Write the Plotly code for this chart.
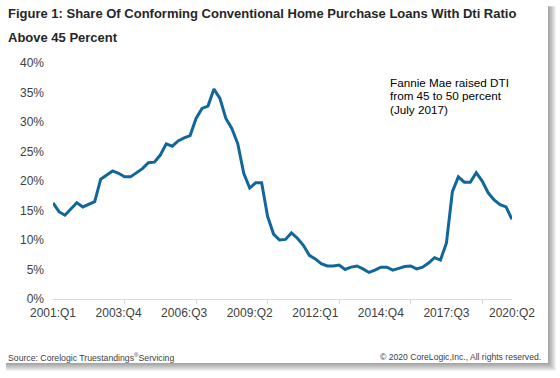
import plotly.graph_objects as go

# ---- data (share of loans with DTI > 45%, quarterly 2001:Q1 .. 2020:Q2) ----
share_pct = [
    16.3, 14.8, 14.2, 15.3, 16.3, 15.6, 16.0, 16.5, 20.3, 21.0,
    21.7, 21.3, 20.7, 20.7, 21.4, 22.1, 23.1, 23.2, 24.4, 26.3,
    25.9, 26.8, 27.3, 27.7, 30.6, 32.3, 32.7, 35.6, 34.0, 30.6,
    28.9, 26.3, 21.3, 18.8, 19.7, 19.7, 14.0, 11.0, 10.0, 10.1,
    11.2, 10.3, 9.1, 7.4, 6.8, 6.0, 5.6, 5.6, 5.75, 5.0,
    5.4, 5.6, 5.1, 4.5, 4.9, 5.4, 5.4, 4.9, 5.2, 5.5,
    5.6, 5.1, 5.4, 6.1, 7.0, 6.6, 9.5, 18.2, 20.7, 19.8,
    19.8, 21.4, 20.0, 18.0, 16.8, 16.0, 15.6, 13.5,
]
tick_labels = ["2001:Q1", "2003:Q4", "2006:Q3", "2009:Q2",
               "2012:Q1", "2014:Q4", "2017:Q3", "2020:Q2"]
label_step = 11
tickmark_step = 12
y_ticks = [0, 5, 10, 15, 20, 25, 30, 35, 40]
y_tick_text = [f"{v}%" for v in y_ticks]
note_lines = ["Fannie Mae raised DTI", "from 45 to 50 percent", "(July 2017)"]

quarters = [f"{2001 + i // 4}:Q{i % 4 + 1}" for i in range(len(share_pct))]
xidx = list(range(len(share_pct)))

W, H = 560, 378
L, R, T, B = 53, 512, 62.7, 299.0


def px(x):
    return (x - L) / (R - L)


def py(y):
    return (B - y) / (B - T)


FONT = "Arial, Liberation Sans, sans-serif"

fig = go.Figure()
fig.add_trace(go.Scatter(
    x=xidx, y=share_pct, mode="lines", text=quarters,
    line=dict(color="#11679a", width=3),
    hovertemplate="%{text}: %{y:.1f}%<extra></extra>",
))

shapes = []
# card shadow
for k in range(1, 9):
    shapes.append(dict(type="rect", xref="paper", yref="paper", layer="below",
                       x0=px(6), y0=py(6), x1=px(548 + k), y1=py(363 + k),
                       line=dict(width=0), fillcolor="rgba(0,0,0,0.05)"))
# white card
shapes.append(dict(type="rect", xref="paper", yref="paper", layer="below",
                   x0=px(-2), y0=py(-2), x1=px(548), y1=py(363),
                   line=dict(width=0), fillcolor="white"))

annotations = [
    dict(text="<b>Figure 1: Share Of Conforming Conventional Home Purchase Loans With Dti Ratio</b>",
         xref="paper", yref="paper", x=px(6), y=py(13.6), xanchor="left", yanchor="middle",
         showarrow=False, font=dict(family=FONT, size=13, color="#262626")),
    dict(text="<b>Above 45 Percent</b>",
         xref="paper", yref="paper", x=px(6), y=py(37.6), xanchor="left", yanchor="middle",
         showarrow=False, font=dict(family=FONT, size=13, color="#262626")),
    dict(text="Source: Corelogic Truestandings<sup>®</sup>Servicing",
         xref="paper", yref="paper", x=px(6), y=py(357), xanchor="left", yanchor="middle",
         showarrow=False, font=dict(family=FONT, size=8.7, color="#404040")),
    dict(text="© 2020 CoreLogic,Inc., All rights reserved.",
         xref="paper", yref="paper", x=px(543), y=py(357), xanchor="right", yanchor="middle",
         showarrow=False, font=dict(family=FONT, size=8.6, color="#404040")),
]
for i, line in enumerate(note_lines):
    annotations.append(dict(
        text=line, xref="paper", yref="paper", x=px(389), y=py(82 + 13.4 * i),
        xanchor="left", yanchor="middle", showarrow=False, borderpad=0,
        font=dict(family=FONT, size=11.7, color="#000000")))

fig.update_layout(
    width=W, height=H,
    margin=dict(l=L, r=W - R, t=T, b=H - B, pad=0),
    paper_bgcolor="white", plot_bgcolor="rgba(0,0,0,0)",
    showlegend=False,
    font=dict(family=FONT, size=12, color="#404040"),
    shapes=shapes, annotations=annotations,
    xaxis=dict(
        range=[0, len(share_pct) - 1],
        tickmode="array",
        tickvals=list(range(0, len(share_pct), label_step)),
        ticktext=tick_labels,
        ticks="", showgrid=False, zeroline=False,
        showline=True, linecolor="#d9d9d9", linewidth=1,
        ticklabelstandoff=3,
        tickfont=dict(family=FONT, size=12, color="#404040"),
        minor=dict(tickmode="array",
                   tickvals=list(range(tickmark_step, len(share_pct) - 1, tickmark_step)),
                   ticks="outside", ticklen=4, tickcolor="#d9d9d9", tickwidth=1,
                   showgrid=False),
    ),
    yaxis=dict(
        range=[0, 40], tickmode="array", tickvals=y_ticks, ticktext=y_tick_text,
        ticks="", showgrid=False, zeroline=False, showline=False,
        ticklabelstandoff=8,
        tickfont=dict(family=FONT, size=12, color="#404040"),
    ),
)

fig.write_html("out.html", config={"displayModeBar": False},
               post_script="document.body.style.margin='0';")
